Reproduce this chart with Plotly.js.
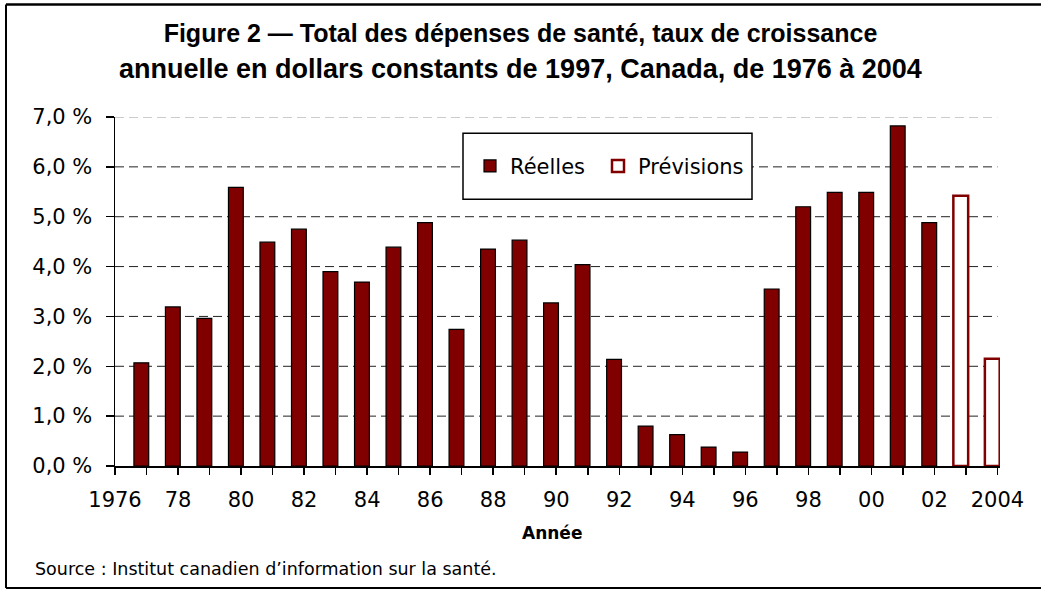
<!DOCTYPE html>
<html>
<head>
<meta charset="utf-8">
<script src="https://cdn.plot.ly/plotly-3.0.1.min.js"></script>
<style>
  html, body { margin: 0; padding: 0; background: #ffffff; }
  #chart { width: 1041px; height: 592px; }
</style>
</head>
<body>
<div id="chart"></div>
<script>
// ---- Data ----
const actualYears = [1977, 1978, 1979, 1980, 1981, 1982, 1983, 1984, 1985, 1986, 1987, 1988, 1989,
                     1990, 1991, 1992, 1993, 1994, 1995, 1996, 1997, 1998, 1999, 2000, 2001, 2002];
const actualValues = [2.07, 3.19, 2.96, 5.59, 4.49, 4.75, 3.90, 3.69, 4.39, 4.88, 2.74, 4.35, 4.53,
                      3.27, 4.04, 2.14, 0.80, 0.63, 0.38, 0.28, 3.55, 5.20, 5.49, 5.49, 6.82, 4.88];
const forecastYears = [2003, 2004];
const forecastValues = [5.42, 2.15];

const tickYears = [];
for (let y = 1976; y <= 2004; y++) tickYears.push(y);
const tickYearLabels = ["1976", "", "78", "", "80", "", "82", "", "84", "", "86", "", "88", "", "90", "",
                        "92", "", "94", "", "96", "", "98", "", "00", "", "02", "", "2004"];
const yTickValues = [0, 1, 2, 3, 4, 5, 6, 7];
const yTickLabels = ["0,0 %", "1,0 %", "2,0 %", "3,0 %", "4,0 %", "5,0 %", "6,0 %", "7,0 %"];

const seriesNames = ["Réelles", "Prévisions"];
const titleLines = ["Figure 2 — Total des dépenses de santé, taux de croissance",
                    "annuelle en dollars constants de 1997, Canada, de 1976 à 2004"];
const xTitle = "Année";
const sourceText = "Source : Institut canadien d’information sur la santé.";

// ---- Styles ----
const RED = "#800000";
const TICKFONT = "DejaVu Sans, Verdana, sans-serif";
const TITLEFONT = "Liberation Sans, Arial, sans-serif";
const barWidth = 0.47, barOffset = -0.40;

const traces = [
  {
    type: "bar", name: seriesNames[0], x: actualYears, y: actualValues,
    width: barWidth, offset: barOffset, legend: "legend",
    marker: { color: RED, line: { color: "#000000", width: 1.2 } },
    hoverinfo: "x+y"
  },
  {
    type: "bar", name: seriesNames[1], x: forecastYears, y: forecastValues,
    width: barWidth, offset: barOffset, legend: "legend2", cliponaxis: false,
    marker: { color: "#ffffff", line: { color: RED, width: 2.5 } },
    hoverinfo: "x+y"
  }
];

// pixel helpers for paper coordinates (plot area: x 115..1000, y 116.7..466)
const L = 115, R = 41, T = 116.7, B = 126;
const PW = 1041 - L - R, PH = 592 - T - B;
const px = p => (p - L) / PW;
const py = p => (592 - B - p) / PH;

const shapes = [];
// gridlines
yTickValues.forEach(v => {
  if (v === 0) return;
  shapes.push({
    type: "line", xref: "x", yref: "y", layer: "below",
    x0: tickYears[0], x1: tickYears[tickYears.length - 1], y0: v, y1: v,
    line: { color: v === 7 ? "#9a9a9a" : "#222222", width: 1, dash: "9px,5px" }
  });
});
// legend box
shapes.push({
  type: "rect", xref: "paper", yref: "paper", layer: "above",
  x0: px(463), x1: px(752), y0: py(199), y1: py(133),
  fillcolor: "#ffffff", line: { color: "#000000", width: 1.5 }
});
// outer frame (left, top, bottom)
shapes.push({ type: "line", xref: "paper", yref: "paper", x0: px(6), x1: px(6), y0: py(4), y1: py(588),
  line: { color: "#000000", width: 2 } });
shapes.push({ type: "line", xref: "paper", yref: "paper", x0: px(6), x1: px(1045), y0: py(4), y1: py(4),
  line: { color: "#000000", width: 2.5 } });
shapes.push({ type: "line", xref: "paper", yref: "paper", x0: px(6), x1: px(1045), y0: py(588), y1: py(588),
  line: { color: "#000000", width: 2 } });

const legendCommon = {
  orientation: "h", xref: "paper", yref: "paper", xanchor: "left", yanchor: "middle",
  bgcolor: "rgba(0,0,0,0)", borderwidth: 0,
  font: { family: TICKFONT, size: 21, color: "#000000" }
};

const layout = {
  width: 1041, height: 592,
  paper_bgcolor: "#ffffff", plot_bgcolor: "rgba(0,0,0,0)",
  margin: { l: L, r: R, t: T, b: B, pad: 0 },
  barmode: "overlay",
  showlegend: true,
  title: {
    text: "<b>" + titleLines[0] + "</b>",
    font: { family: TITLEFONT, size: 25, color: "#000000" },
    x: 0.5, xref: "container", xanchor: "center",
    y: 1 - 33 / 592, yref: "container", yanchor: "middle"
  },
  xaxis: {
    type: "linear", range: [1976, 2004.08], fixedrange: true,
    tickmode: "array", tickvals: tickYears, ticktext: tickYearLabels,
    ticks: "outside", ticklen: 7, tickwidth: 1.5, tickcolor: "#000000",
    showline: true, linecolor: "#000000", linewidth: 1.5,
    showgrid: false, zeroline: false,
    tickfont: { family: TICKFONT, size: 21, color: "#000000" },
    ticklabelstandoff: 7
  },
  yaxis: {
    range: [0, 7], fixedrange: true,
    tickmode: "array", tickvals: yTickValues, ticktext: yTickLabels,
    ticks: "outside", ticklen: 8, tickwidth: 1.5, tickcolor: "#000000",
    showline: true, linecolor: "#000000", linewidth: 1.5,
    showgrid: false, zeroline: false,
    tickfont: { family: TICKFONT, size: 21, color: "#000000" },
    ticklabelstandoff: 9
  },
  legend: Object.assign({}, legendCommon, { x: px(470), y: py(166) }),
  legend2: Object.assign({}, legendCommon, { x: px(598), y: py(166) }),
  shapes: shapes,
  annotations: [
    {
      text: "<b>" + titleLines[1] + "</b>", xref: "paper", yref: "paper",
      x: px(520.5), y: py(69), xanchor: "center", yanchor: "middle", showarrow: false,
      font: { family: TITLEFONT, size: 27, color: "#000000" }
    },
    {
      text: "<b>" + xTitle + "</b>", xref: "paper", yref: "paper",
      x: px(552), y: py(533), xanchor: "center", yanchor: "middle", showarrow: false,
      font: { family: TICKFONT, size: 17, color: "#000000" }
    },
    {
      text: sourceText, xref: "paper", yref: "paper",
      x: px(33), y: py(569), xanchor: "left", yanchor: "middle", showarrow: false,
      font: { family: TICKFONT, size: 17.5, color: "#000000" }
    }
  ]
};

Plotly.newPlot("chart", traces, layout, { displayModeBar: false, staticPlot: true });
</script>
</body>
</html>
